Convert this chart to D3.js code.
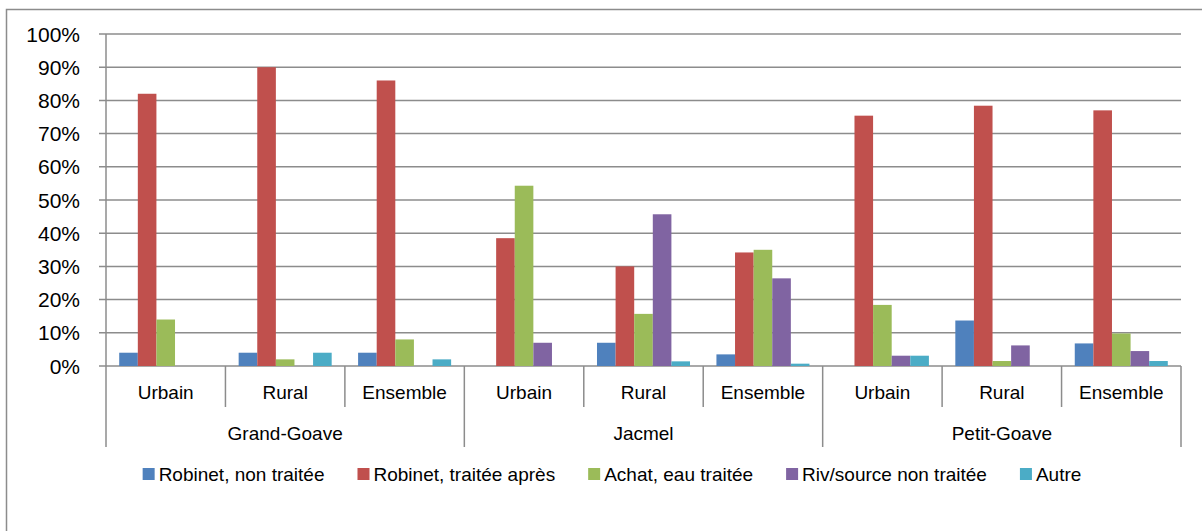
<!DOCTYPE html>
<html>
<head>
<meta charset="utf-8">
<script src="https://cdn.jsdelivr.net/npm/d3@7"></script>
<style>
  body { margin: 0; background: #fff; }
  svg { display: block; font-family: "Liberation Sans", Arial, sans-serif; }
</style>
</head>
<body>
<svg id="chart" width="1202" height="531"></svg>
<script>
const groups = ['Grand-Goave', 'Jacmel', 'Petit-Goave'];
const subCategories = ['Urbain', 'Rural', 'Ensemble'];
const seriesNames = ['Robinet, non traitée', 'Robinet, traitée après', 'Achat, eau traitée', 'Riv/source non traitée', 'Autre'];
const seriesColors = ['#4F81BD', '#C0504D', '#9BBB59', '#8064A2', '#4BACC6'];

// percentages, order: Grand-Goave (U,R,E), Jacmel (U,R,E), Petit-Goave (U,R,E)
const robinetNonTraitee = [4, 4, 4, 0, 7, 3.5, 0, 13.7, 6.8];
const robinetTraitee = [82, 90, 86, 38.5, 30, 34.2, 75.4, 78.4, 77];
const achatEauTraitee = [14, 2, 8, 54.3, 15.7, 35, 18.4, 1.5, 9.8];
const rivSource = [0, 0, 0, 7, 45.7, 26.4, 3.1, 6.2, 4.5];
const autre = [0, 4, 2, 0, 1.4, 0.7, 3.1, 0, 1.5];

const yTicks = [0, 10, 20, 30, 40, 50, 60, 70, 80, 90, 100];

const seriesValues = [robinetNonTraitee, robinetTraitee, achatEauTraitee, rivSource, autre];
const cells = [];
groups.forEach((g, gi) => subCategories.forEach((c, ci) => cells.push({ group: g, cat: c, idx: gi * 3 + ci })));

const svg = d3.select('#chart');
const plotLeft = 106, plotRight = 1181, plotTop = 34, plotBottom = 366;
const gridColor = '#8c8c8c';

// chart frame (only left and top edges show)
svg.append('rect')
  .attr('x', 6.5).attr('y', 9.5)
  .attr('width', 1300).attr('height', 600)
  .attr('fill', 'none').attr('stroke', '#8c8c8c').attr('stroke-width', 1.5);

const y = d3.scaleLinear().domain([0, 100]).range([plotBottom, plotTop]);
const x = d3.scaleBand().domain(cells.map(d => d.idx)).range([plotLeft, plotRight]);
const xs = d3.scaleBand().domain(d3.range(seriesNames.length)).range([0, x.bandwidth()]).paddingOuter(0.71);

// gridlines + y ticks
svg.append('g')
  .selectAll('line')
  .data(yTicks)
  .join('line')
  .attr('x1', plotLeft - 7).attr('x2', plotRight)
  .attr('y1', d => y(d)).attr('y2', d => y(d))
  .attr('stroke', gridColor).attr('stroke-width', 1.5);

svg.append('g')
  .selectAll('text')
  .data(yTicks)
  .join('text')
  .attr('x', 80).attr('y', d => y(d))
  .attr('dy', '0.36em')
  .attr('text-anchor', 'end')
  .attr('font-size', 21)
  .attr('fill', '#000')
  .text(d => d + '%');

// bars
svg.append('g')
  .selectAll('g')
  .data(seriesValues)
  .join('g')
  .attr('fill', (d, i) => seriesColors[i])
  .each(function (vals, si) {
    d3.select(this).selectAll('rect')
      .data(cells)
      .join('rect')
      .attr('x', d => x(d.idx) + xs(si))
      .attr('width', xs.bandwidth())
      .attr('y', d => y(vals[d.idx]))
      .attr('height', d => plotBottom - y(vals[d.idx]));
  });

// axis line
svg.append('line')
  .attr('x1', plotLeft).attr('x2', plotLeft).attr('y1', plotTop).attr('y2', 447)
  .attr('stroke', gridColor).attr('stroke-width', 1.5);

// category separators
const sep = svg.append('g').attr('stroke', gridColor).attr('stroke-width', 1.5);
cells.forEach((d, i) => {
  if (i === 0) return;
  const xx = x(d.idx);
  sep.append('line')
    .attr('x1', xx).attr('x2', xx)
    .attr('y1', plotBottom).attr('y2', i % 3 === 0 ? 447 : 407);
});
sep.append('line').attr('x1', plotRight).attr('x2', plotRight).attr('y1', plotBottom).attr('y2', 447);

// category labels
svg.append('g')
  .selectAll('text')
  .data(cells)
  .join('text')
  .attr('x', d => x(d.idx) + x.bandwidth() / 2)
  .attr('y', 392).attr('dy', '0.36em')
  .attr('text-anchor', 'middle')
  .attr('font-size', 19)
  .text(d => d.cat);

svg.append('g')
  .selectAll('text')
  .data(groups)
  .join('text')
  .attr('x', (d, i) => x(i * 3) + x.bandwidth() * 1.5)
  .attr('y', 433).attr('dy', '0.36em')
  .attr('text-anchor', 'middle')
  .attr('font-size', 19)
  .text(d => d);

// legend
const legend = svg.append('g');
const items = legend.selectAll('g')
  .data(seriesNames)
  .join('g');
items.append('rect')
  .attr('width', 12).attr('height', 12)
  .attr('y', 468)
  .attr('fill', (d, i) => seriesColors[i]);
items.append('text')
  .attr('x', 16).attr('y', 480.5)
  .attr('font-size', 19)
  .text(d => d);

let cursor = 0;
const offsets = [];
items.each(function () {
  offsets.push(cursor);
  cursor += 16 + this.querySelector('text').getComputedTextLength() + 33;
});
const total = cursor - 33;
const start = 612 - total / 2;
items.attr('transform', (d, i) => `translate(${start + offsets[i]},0)`);
</script>
</body>
</html>
